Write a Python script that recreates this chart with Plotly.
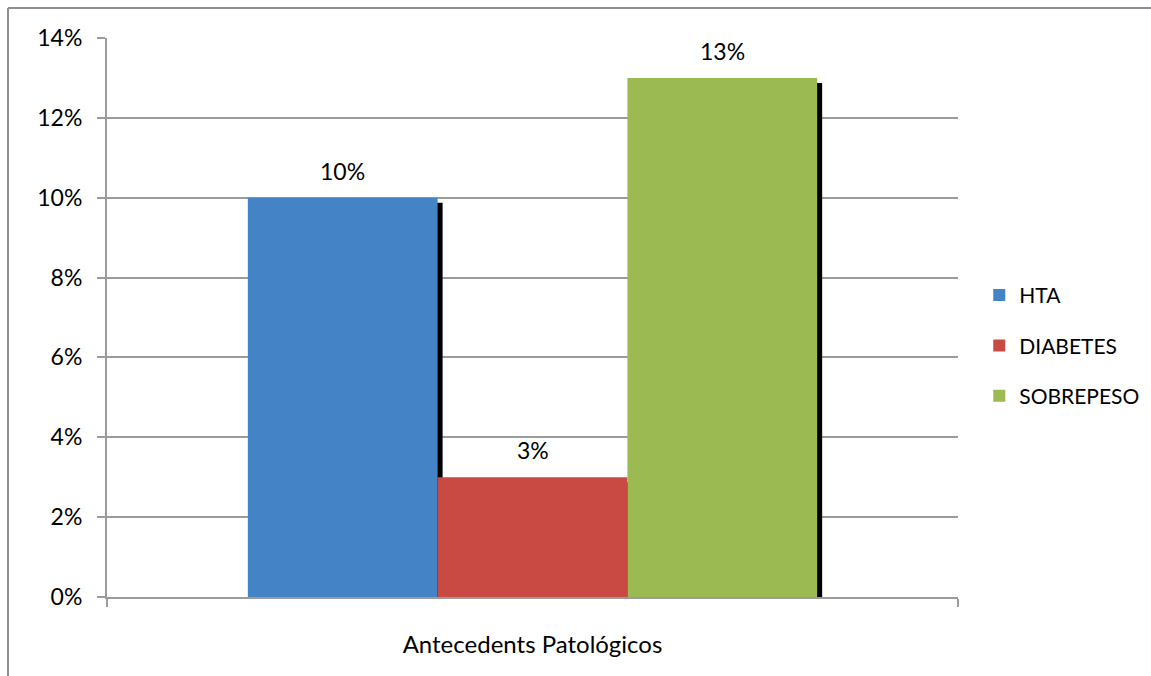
import plotly.graph_objects as go

# Data
category = "Antecedents Patológicos"
series = ["HTA", "DIABETES", "SOBREPESO"]
values = [0.10, 0.03, 0.13]
colors = ["#4383C6", "#C84A43", "#9BBA51"]

# Tick labels of the value axis
y_ticks = [0, 0.02, 0.04, 0.06, 0.08, 0.10, 0.12, 0.14]
y_ticktext = ["0%", "2%", "4%", "6%", "8%", "10%", "12%", "14%"]

FONT = "Lato, 'Open Sans', sans-serif"
GRID = "#9B9B9B"

# Geometry of the single category slot on a numeric axis [-0.5, 0.5]
group_width = 0.669
bar_w = group_width / len(series)
plot_px_w = 851
plot_px_h = 559
y_max = 0.14
shadow_dx = 5 / plot_px_w
shadow_dy = 5 / plot_px_h * y_max

fig = go.Figure()

# Drop shadows (behind the bars)
for i, (name, v) in enumerate(zip(series, values)):
    off = -group_width / 2 + i * bar_w
    fig.add_trace(go.Bar(
        x=[0], y=[v - shadow_dy], offset=off + shadow_dx, width=bar_w,
        marker=dict(color="#000000", line=dict(width=0)),
        showlegend=False, hoverinfo="skip",
    ))

# Main bars
for i, (name, v, c) in enumerate(zip(series, values, colors)):
    off = -group_width / 2 + i * bar_w
    fig.add_trace(go.Bar(
        x=[0], y=[v], offset=off, width=bar_w, name=name,
        marker=dict(color=c, line=dict(width=0)),
        legendgroup=name,
    ))
    fig.add_annotation(
        x=off + bar_w / 2, y=v, text=f"{round(v * 100)}%",
        showarrow=False, yanchor="bottom", yshift=11,
        font=dict(family=FONT, size=23, color="#000000"),
    )

fig.update_layout(
    width=1151, height=676,
    margin=dict(l=107, r=193, t=38, b=79, autoexpand=False),
    paper_bgcolor="white", plot_bgcolor="white",
    barmode="overlay",
    font=dict(family=FONT, size=23, color="#000000"),
    legend=dict(
        x=1.025, y=0.45, xanchor="left", yanchor="middle",
        font=dict(family=FONT, size=21, color="#000000"),
        tracegroupgap=20, itemwidth=30,
    ),
    xaxis=dict(
        range=[-0.5, 0.5], tickvals=[0], ticktext=[category],
        ticks="", showgrid=False, zeroline=False,
        showline=True, linecolor=GRID, linewidth=2,
        ticklabelstandoff=25,
        tickfont=dict(family=FONT, size=24),
        minor=dict(tickvals=[-0.5, 0.5], ticks="outside", ticklen=8,
                   tickwidth=2, tickcolor=GRID, showgrid=False),
    ),
    yaxis=dict(
        range=[0, y_max], tickvals=y_ticks, ticktext=y_ticktext,
        ticks="outside", ticklen=8, tickwidth=2, tickcolor=GRID,
        showgrid=True, gridcolor=GRID, gridwidth=2,
        zeroline=False, showline=True, linecolor=GRID, linewidth=2,
        ticklabelstandoff=10,
        tickfont=dict(family=FONT, size=23),
    ),
    shapes=[
        # Outer chart frame (top and left edges)
        dict(type="line", xref="paper", yref="paper",
             x0=(8 - 107) / plot_px_w, x1=(1160 - 107) / plot_px_w,
             y0=(597 - 8) / plot_px_h, y1=(597 - 8) / plot_px_h,
             line=dict(color="#8E8E8E", width=2)),
        dict(type="line", xref="paper", yref="paper",
             x0=(8 - 107) / plot_px_w, x1=(8 - 107) / plot_px_w,
             y0=(597 - 8) / plot_px_h, y1=(597 - 690) / plot_px_h,
             line=dict(color="#8E8E8E", width=2)),
    ],
)

fig.write_html("out.html")
